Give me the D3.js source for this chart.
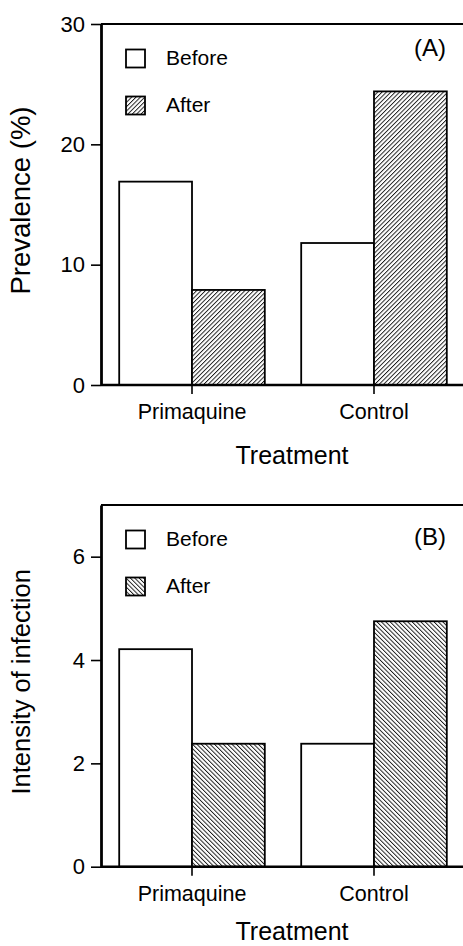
<!DOCTYPE html>
<html>
<head>
<meta charset="utf-8">
<script src="https://cdn.jsdelivr.net/npm/d3@7"></script>
<style>
  html, body { margin: 0; padding: 0; background: #fff; }
  svg { display: block; }
  text { font-family: "Liberation Sans", Arial, Helvetica, sans-serif; fill: #000; }
</style>
</head>
<body>
<svg id="chart" width="463" height="946"></svg>
<script>
// ---- data ----
const categories = ["Primaquine", "Control"];
const series = ["Before", "After"];
const prevalenceBefore = [16.9, 11.8];
const prevalenceAfter = [7.9, 24.4];
const intensityBefore = [4.21, 2.38];
const intensityAfter = [2.38, 4.75];
const prevalenceTicks = [0, 10, 20, 30];
const intensityTicks = [0, 2, 4, 6];
const prevalenceMax = 30;
const intensityMax = 7;

// ---- layout (not data) ----
const panels = [
  { label: "(A)", yTitle: "Prevalence (%)", xTitle: "Treatment",
    before: prevalenceBefore, after: prevalenceAfter, ticks: prevalenceTicks, max: prevalenceMax,
    top: 24, bottom: 385, hatch: 45, labelDy: 32, yTitleSize: 27.5, xTitleDy: 79 },
  { label: "(B)", yTitle: "Intensity of infection", xTitle: "Treatment",
    before: intensityBefore, after: intensityAfter, ticks: intensityTicks, max: intensityMax,
    top: 505, bottom: 866.7, hatch: -45, labelDy: 40, yTitleSize: 25.5, xTitleDy: 73 }
];

const svg = d3.select("#chart");
const left = 101, right = 463;

const x = d3.scaleBand().domain(categories).range([left, 465]).paddingInner(0.2).paddingOuter(0.1);
const xs = d3.scaleBand().domain(series).range([0, x.bandwidth()]).padding(0);

const defs = svg.append("defs");

panels.forEach((p, i) => {
  const pid = "hatch" + i;
  const pat = defs.append("pattern")
    .attr("id", pid)
    .attr("patternUnits", "userSpaceOnUse")
    .attr("width", 3.1).attr("height", 10)
    .attr("patternTransform", `rotate(${p.hatch})`);
  pat.append("rect").attr("width", 3.1).attr("height", 10).attr("fill", "#fff");
  pat.append("line").attr("x1", 0.5).attr("x2", 0.5).attr("y1", 0).attr("y2", 10)
    .attr("stroke", "#000").attr("stroke-width", 0.85);

  const y = d3.scaleLinear().domain([0, p.max]).range([p.bottom, p.top]);
  const g = svg.append("g");

  const rows = categories.map((c, k) => ({ cat: c, Before: p.before[k], After: p.after[k] }));

  // bars
  rows.forEach(r => {
    series.forEach(s => {
      g.append("rect")
        .attr("x", x(r.cat) + xs(s))
        .attr("y", y(r[s]))
        .attr("width", xs.bandwidth())
        .attr("height", y(0) - y(r[s]))
        .attr("fill", s === "Before" ? "#fff" : `url(#${pid})`)
        .attr("stroke", "#000")
        .attr("stroke-width", 1.8);
    });
  });

  // top frame line
  g.append("line")
    .attr("x1", left).attr("x2", right)
    .attr("y1", y(p.max)).attr("y2", y(p.max))
    .attr("stroke", "#000").attr("stroke-width", 2);

  // y axis
  const ya = g.append("g").attr("transform", `translate(${left},0)`)
    .call(d3.axisLeft(y).tickValues(p.ticks).tickFormat(d3.format("d"))
      .tickSize(10).tickSizeOuter(0).tickPadding(6));
  ya.select(".domain").attr("stroke-width", 2.8);
  ya.selectAll(".tick line").attr("stroke-width", 1.6);
  ya.selectAll("text").style("font-size", "22px").attr("font-family", null);

  // x axis
  const xa = g.append("g").attr("transform", `translate(0,${y(0)})`)
    .call(d3.axisBottom(x).tickSize(9).tickSizeOuter(0).tickPadding(10));
  xa.select(".domain").attr("stroke-width", 2.6).attr("d", `M${left},0H${right}`);
  xa.selectAll(".tick line").attr("stroke-width", 1.6);
  xa.selectAll("text").style("font-size", "21.5px").attr("font-family", null);

  // x title
  g.append("text").attr("x", 292).attr("y", y(0) + p.xTitleDy)
    .attr("text-anchor", "middle").style("font-size", "25px").text(p.xTitle);

  // y title
  g.append("text")
    .attr("transform", `translate(30,${(p.top + p.bottom) / 2 - 4}) rotate(-90)`)
    .attr("text-anchor", "middle").style("font-size", p.yTitleSize + "px").text(p.yTitle);

  // panel label
  g.append("text").attr("x", 446).attr("y", p.top + p.labelDy)
    .attr("text-anchor", "end").style("font-size", "24px").text(p.label);

  // legend
  const lg = g.append("g").attr("transform", `translate(126,${p.top + 25.5})`);
  series.forEach((s, k) => {
    lg.append("rect").attr("x", 0).attr("y", k * 47).attr("width", 19).attr("height", 18)
      .attr("fill", s === "Before" ? "#fff" : `url(#${pid})`)
      .attr("stroke", "#000").attr("stroke-width", 1.8);
    lg.append("text").attr("x", 40).attr("y", k * 47 + 15.5)
      .style("font-size", "21px").text(s);
  });
});
</script>
</body>
</html>
